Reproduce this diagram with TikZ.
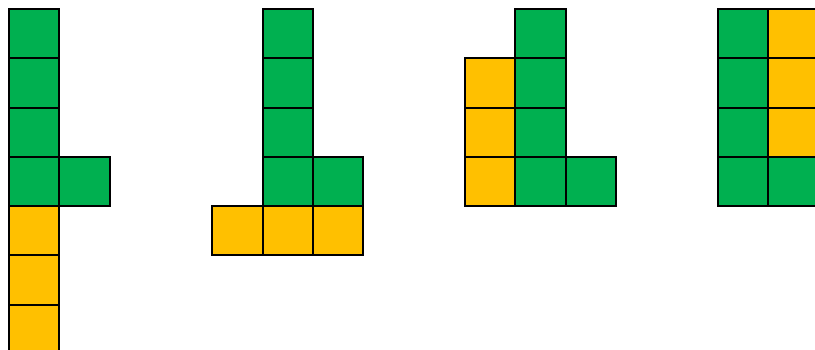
\documentclass[tikz,border=0pt]{standalone}
\definecolor{gr}{HTML}{00B050}
\definecolor{ye}{HTML}{FFC000}
\newcommand\mycell[3]{\filldraw[cellbox,fill=#3] ({#1*50.4},{#2*49.3}) rectangle ++(50.4,49.3);}
\begin{document}
\begin{tikzpicture}[x=1pt,y=-1pt,cellbox/.style={draw=black,line width=2pt}]
\useasboundingbox (0,0) rectangle (815,350);
\clip (0,0) rectangle (815,350);
% figure 1
\begin{scope}[shift={(9,9)}]
\mycell{0}{0}{gr}\mycell{0}{1}{gr}\mycell{0}{2}{gr}\mycell{0}{3}{gr}\mycell{1}{3}{gr}
\mycell{0}{4}{ye}\mycell{0}{5}{ye}\mycell{0}{6}{ye}
\end{scope}
% figure 2
\begin{scope}[shift={(212.2,9)}]
\mycell{1}{0}{gr}\mycell{1}{1}{gr}\mycell{1}{2}{gr}\mycell{1}{3}{gr}\mycell{2}{3}{gr}
\mycell{0}{4}{ye}\mycell{1}{4}{ye}\mycell{2}{4}{ye}
\end{scope}
% figure 3
\begin{scope}[shift={(465,9)}]
\mycell{1}{0}{gr}\mycell{1}{1}{gr}\mycell{1}{2}{gr}\mycell{1}{3}{gr}\mycell{2}{3}{gr}
\mycell{0}{1}{ye}\mycell{0}{2}{ye}\mycell{0}{3}{ye}
\end{scope}
% figure 4
\begin{scope}[shift={(718,9)}]
\mycell{0}{0}{gr}\mycell{0}{1}{gr}\mycell{0}{2}{gr}\mycell{0}{3}{gr}\mycell{1}{3}{gr}
\mycell{1}{0}{ye}\mycell{1}{1}{ye}\mycell{1}{2}{ye}
\end{scope}
\end{tikzpicture}
\end{document}
